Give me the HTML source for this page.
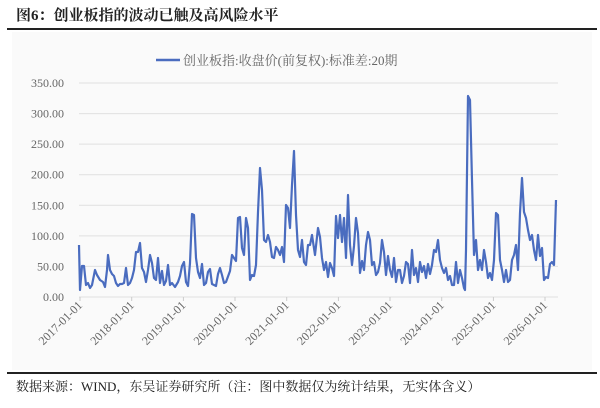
<!DOCTYPE html>
<html><head><meta charset="utf-8"><style>
body{margin:0;width:600px;height:403px;background:#fff;overflow:hidden;font-family:"Liberation Serif","Noto Serif CJK SC",serif;}
</style></head><body>
<svg width="600" height="403" xmlns="http://www.w3.org/2000/svg">
<text x="16" y="20" font-size="15" font-weight="bold" fill="#222" font-family="Liberation Serif,Noto Serif CJK SC,serif">图6：创业板指的波动已触及高风险水平</text>
<rect x="7" y="28" width="590" height="2" fill="#222"/>
<rect x="12" y="32" width="580" height="338" fill="#fafafa"/>
<line x1="156" y1="60" x2="180" y2="60" stroke="#4a6cbf" stroke-width="2.5"/>
<text x="183" y="65" font-size="13" fill="#666" font-family="Liberation Serif,Noto Serif CJK SC,serif">创业板指:收盘价(前复权):标准差:20期</text>
<g stroke="#e0e0e0" stroke-width="1">
<line x1="79" y1="83" x2="558" y2="83"/><line x1="79" y1="113.6" x2="558" y2="113.6"/><line x1="79" y1="144.1" x2="558" y2="144.1"/><line x1="79" y1="174.7" x2="558" y2="174.7"/><line x1="79" y1="205.3" x2="558" y2="205.3"/><line x1="79" y1="235.9" x2="558" y2="235.9"/><line x1="79" y1="266.4" x2="558" y2="266.4"/><line x1="79" y1="297" x2="558" y2="297"/>
</g>
<g stroke="#ccc"><line x1="80" y1="297" x2="80" y2="301"/><line x1="131.7" y1="297" x2="131.7" y2="301"/><line x1="183.4" y1="297" x2="183.4" y2="301"/><line x1="235" y1="297" x2="235" y2="301"/><line x1="286.7" y1="297" x2="286.7" y2="301"/><line x1="338.4" y1="297" x2="338.4" y2="301"/><line x1="390" y1="297" x2="390" y2="301"/><line x1="441.7" y1="297" x2="441.7" y2="301"/><line x1="493.4" y1="297" x2="493.4" y2="301"/><line x1="545" y1="297" x2="545" y2="301"/></g>
<g font-size="12" fill="#666" text-anchor="end">
<text x="64" y="87">350.00</text><text x="64" y="117.6">300.00</text><text x="64" y="148.1">250.00</text><text x="64" y="178.7">200.00</text><text x="64" y="209.3">150.00</text><text x="64" y="239.9">100.00</text><text x="64" y="270.4">50.00</text><text x="64" y="301">0.00</text>
</g>
<g font-size="12" fill="#666" text-anchor="end">
<text transform="translate(83,306) rotate(-45)">2017-01-01</text>
<text transform="translate(134.7,306) rotate(-45)">2018-01-01</text>
<text transform="translate(186.4,306) rotate(-45)">2019-01-01</text>
<text transform="translate(238,306) rotate(-45)">2020-01-01</text>
<text transform="translate(289.7,306) rotate(-45)">2021-01-01</text>
<text transform="translate(341.4,306) rotate(-45)">2022-01-01</text>
<text transform="translate(393,306) rotate(-45)">2023-01-01</text>
<text transform="translate(444.7,306) rotate(-45)">2024-01-01</text>
<text transform="translate(496.4,306) rotate(-45)">2025-01-01</text>
<text transform="translate(548,306) rotate(-45)">2026-01-01</text>
</g>
<polyline fill="none" stroke="#4a6cbf" stroke-width="2.2" stroke-linejoin="round" points="79,245 80,290 82,266 84,266 86,285 88,283 90,288 92,285 95,270 97,275 100,280 103,282 105,287 107,270 108,255 110,270 112,274 114,276 116,283 118,286 120,284 122,284 124,283 126,268 128,285 130,283 132,278 134,270 136,252 138,252 140,243 142,268 144,272 146,282 148,270 150,255 152,263 154,278 156,280 158,258 160,283 162,271 164,285 166,281 168,265 170,285 172,283 175,287 178,282 180,276 182,266 184,262 186,282 188,286 190,263 192,214 194,215 196,258 198,272 200,278 202,264 204,285 206,283 208,272 210,269 212,284 214,285 216,286 218,274 220,268 222,275 224,283 226,282 230,271 232,255 234,258 236,261 238,218 240,217 242,248 244,255 246,218 248,228 250,280 252,275 254,276 256,265 258,212 260,168 262,190 264,240 266,242 268,235 270,242 272,257 274,258 276,247 278,250 280,255 282,247 284,262 286,205 288,208 290,228 292,185 294,151 296,215 298,250 300,257 302,240 304,262 306,265 308,245 310,245 312,235 315,255 318,228 320,237 322,258 324,270 326,262 328,277 330,263 332,268 334,276 336,216 338,238 340,215 342,242 344,218 346,258 348,195 350,245 352,265 354,246 356,218 358,233 360,273 362,261 364,270 366,245 368,232 370,240 372,265 374,262 376,275 378,272 380,263 382,240 384,252 386,275 388,256 390,270 392,277 394,258 396,282 398,270 400,270 402,283 404,276 406,262 408,264 410,283 412,250 414,275 416,268 418,282 420,262 422,272 424,266 426,278 428,264 430,274 432,265 434,250 436,252 438,240 440,260 442,268 444,273 446,268 448,280 450,276 452,285 454,285 456,262 458,283 460,270 462,278 464,288 465,290 466,250 468,96 470,100 472,180 474,255 476,240 478,270 480,260 482,270 484,250 486,262 488,278 490,273 492,280 494,260 496,213 498,215 500,260 502,270 504,282 506,270 508,282 510,280 512,260 514,255 516,245 518,270 520,213 522,178 524,212 526,218 528,230 530,240 532,235 534,250 536,260 538,235 540,256 542,248 544,280 546,277 548,278 550,264 552,262 554,265 556,200"/>
<rect x="7" y="372" width="590" height="2" fill="#222"/>
<text x="16" y="391" font-size="13" fill="#222">数据来源：WIND，东吴证券研究所（注：图中数据仅为统计结果，无实体含义）</text>
</svg>
</body></html>
